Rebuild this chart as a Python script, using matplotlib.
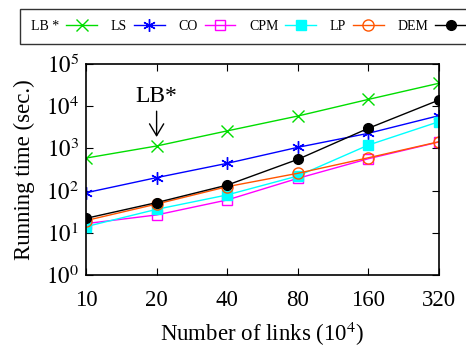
import numpy as np
import matplotlib
matplotlib.use('Agg')
import matplotlib.pyplot as plt

# --- DATA ---
links = [10, 20, 40, 80, 160, 320]
ls_time = [590, 1140, 2600, 5850, 14500, 35000]
co_time = [89, 203, 443, 1060, 2280, 5980]
cpm_time = [16.5, 26.5, 60, 195, 570, 1420]
lp_time = [14, 36, 79, 222, 1200, 4300]
dem_time = [19.5, 48, 124, 257, 600, 1440]
lb_time = [22, 52, 135, 550, 3000, 14000]
# legend text as printed in the figure (shifted one slot, gnuplot style)
legend_text = ['LB *', 'LS', 'CO', 'CPM', 'LP', 'DEM']

plt.rcParams['font.family'] = ['Liberation Serif', 'DejaVu Serif']
plt.rcParams['mathtext.fontset'] = 'stix'

fig = plt.figure(figsize=(4.66, 3.47), dpi=100)
ax = fig.add_axes([86 / 466, 72 / 347, 353 / 466, 211 / 347])

x = np.arange(len(links))
lw = 1.0
h = []
h += ax.plot(x, ls_time, color='#00dd00', marker='x', ms=8, mew=1.0, lw=lw)
h += ax.plot(x, co_time, color='#0000ff', marker=(6, 2, 0), ms=9, mew=1.0, lw=lw)
h += ax.plot(x, cpm_time, color='#ff00ff', marker='s', ms=7, mfc='none', mew=1.0, lw=lw)
h += ax.plot(x, lp_time, color='#00ffff', marker='s', ms=7, mec='#00ffff', lw=lw)
h += ax.plot(x, dem_time, color='#ff5500', marker='o', ms=8, mfc='none', mew=1.0, lw=lw)
h += ax.plot(x, lb_time, color='black', marker='o', ms=7, lw=lw)

ax.set_yscale('log')
ax.set_ylim(1, 1e5)
ax.set_xlim(0, len(links) - 1)
ax.set_xticks(x)
ax.set_xticklabels([str(v) for v in links])
ax.set_yticks([10 ** k for k in range(6)])
ax.set_yticklabels([r'$10^{%d}$' % k for k in range(6)])
ax.minorticks_off()
ax.tick_params(direction='in', top=True, right=True, labelsize=16.5, length=5, width=0.8)
ax.tick_params(axis='x', pad=11)
ax.tick_params(axis='y', pad=5)
for s in ax.spines.values():
    s.set_linewidth(1.2)

ax.set_xlabel(r'Number of links (10$^4$)', fontsize=16.5, labelpad=6)
ax.set_ylabel('Running time (sec.)', fontsize=16.5, labelpad=8)

ax.annotate('LB*', xy=(1, 10 ** 3.27), xytext=(1, 10 ** 3.98), ha='center', va='bottom',
            fontsize=17, arrowprops=dict(arrowstyle='->,head_width=0.3,head_length=0.5',
                                         color='black', lw=1.0, shrinkA=1, shrinkB=0))

leg = fig.legend(h, legend_text, loc='upper left', bbox_to_anchor=(20 / 466, 1 - 9 / 347),
                 ncol=6, markerfirst=False, frameon=True, fancybox=False, fontsize=10,
                 handlelength=2.2, columnspacing=1.0, handletextpad=0.5, borderpad=0.8,
                 edgecolor='black', borderaxespad=0)
leg.get_frame().set_linewidth(1.0)

fig.savefig('out.png', dpi=100)
